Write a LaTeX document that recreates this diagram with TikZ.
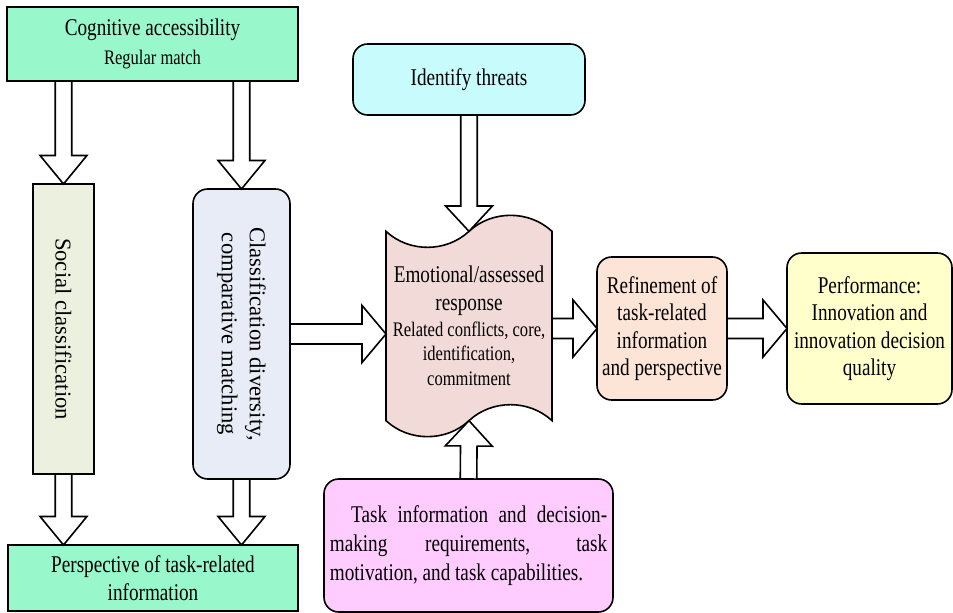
\documentclass[tikz,border=0pt]{standalone}
\usepackage{fontspec}
\setmainfont{Liberation Serif}[FakeStretch=0.8]
\newfontfamily\sidefont{Liberation Serif}
\usetikzlibrary{calc,shapes.symbols}

\definecolor{mint}{RGB}{153,247,204}
\definecolor{sage}{RGB}{235,241,222}
\definecolor{mist}{RGB}{232,236,246}
\definecolor{aqua}{RGB}{200,252,252}
\definecolor{blush}{RGB}{242,218,216}
\definecolor{orchid}{RGB}{255,204,255}
\definecolor{peach}{RGB}{252,228,214}
\definecolor{cream}{RGB}{255,255,204}

\newcommand{\smalltext}{\fontsize{15.5}{18}\selectfont}

\tikzset{
  box/.style={draw, line width=1.2pt, inner sep=2pt, outer sep=0pt, align=center,
    font=\fontsize{18}{20.5}\selectfont},
  roundbox/.style={box, rounded corners=11pt},
  sidebox/.style={box, rotate=-90, font=\sidefont\fontsize{17}{21}\selectfont},
  blockarrow/.style={draw, fill=white, line width=1.2pt, line join=miter},
}

\newcommand{\blockarrow}[5]{%
  \draw[blockarrow] let \p1=(#1), \p2=(#2),
    \n1={atan2(\y2-\y1,\x2-\x1)}, \n2={veclen(\x2-\x1,\y2-\y1)} in
    [shift={(\p1)}, rotate=\n1]
    (0pt,-#3) -- (\n2-#5,-#3) -- (\n2-#5,-#4) -- (\n2,0pt)
    -- (\n2-#5,#4) -- (\n2-#5,#3) -- (0pt,#3) -- cycle;}

\begin{document}
\begin{tikzpicture}[x=0.75pt, y=-0.75pt]
\useasboundingbox (0,0) rectangle (953,613);

\node[box, fill=mint, minimum width=218pt, minimum height=55.5pt] (cog) at (152.5,44)
  {Cognitive accessibility\\[1pt]{\smalltext Regular match}};
\node[sidebox, fill=sage, minimum width=217.5pt, minimum height=45.75pt] (soc) at (63.5,329)
  {Social classification};
\node[sidebox, rounded corners=11pt, fill=mist, minimum width=217.5pt, minimum height=72.75pt] (cdiv) at (241.5,334)
  {Classification diversity,\\comparative matching};
\node[box, fill=mint, minimum width=217.5pt, minimum height=49.5pt] (persp) at (153,578)
  {Perspective of task-related\\information};

\node[roundbox, fill=aqua, minimum width=174pt, minimum height=53.25pt] (threat) at (469,79.5)
  {Identify threats};
\node[box, shape=tape, tape bend height=24pt, fill=blush, minimum width=124.5pt, minimum height=166pt] (emo) at (469,326)
  {Emotional/assessed\\response\\[-1pt]{\smalltext Related conflicts, core,}\\[-2pt]{\smalltext identification,}\\[-2pt]{\smalltext commitment}};
\node[roundbox, fill=orchid, minimum width=216.75pt, minimum height=99.75pt, text width=208pt, align=justify,
  font=\fontsize{18}{22}\selectfont] (task) at (468.5,545.5)
  {\hspace*{16pt}Task information and decision-\linebreak making requirements, task\linebreak motivation, and task capabilities.};

\node[roundbox, fill=peach, minimum width=97.5pt, minimum height=107.25pt] (refine) at (662,328.5)
  {Refinement of\\task-related\\information\\and perspective};
\node[roundbox, fill=cream, minimum width=123.75pt, minimum height=113.25pt] (perf) at (869.5,328.5)
  {Performance:\\Innovation and\\innovation decision\\quality};

\blockarrow{soc.west |- cog.south}{soc.west}{6.2pt}{17.6pt}{21.4pt}
\blockarrow{cdiv.west |- cog.south}{cdiv.west}{6.2pt}{17.6pt}{21.4pt}
\blockarrow{soc.east}{soc.east |- persp.north}{6.2pt}{17.6pt}{21.4pt}
\blockarrow{cdiv.east}{cdiv.east |- persp.north}{6.2pt}{17.6pt}{21.4pt}
\blockarrow{threat.south}{emo.north}{6.2pt}{17.6pt}{19pt}
\blockarrow{task.north}{emo.south}{6.2pt}{17.6pt}{19pt}
\blockarrow{cdiv.north}{cdiv.north -| emo.west}{7.5pt}{21.4pt}{18pt}
\blockarrow{refine.west -| emo.east}{refine.west}{7.5pt}{21.4pt}{18pt}
\blockarrow{refine.east}{perf.west}{7.5pt}{21.4pt}{18pt}

\end{tikzpicture}
\end{document}
